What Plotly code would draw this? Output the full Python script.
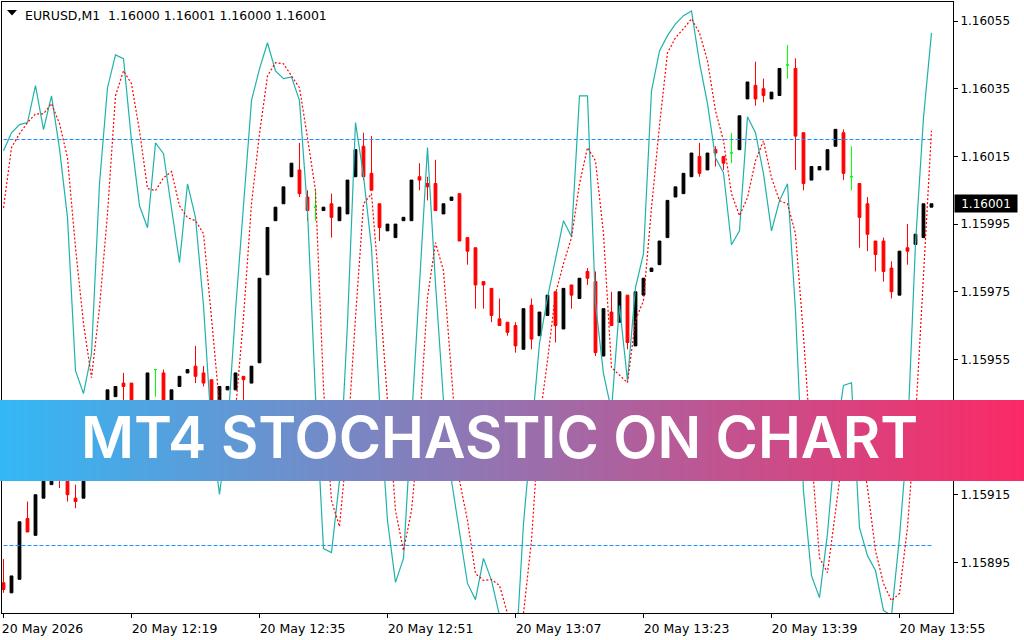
#!/usr/bin/env python3

import plotly.graph_objects as go

# bar index -> minutes are fixed, 1 bar = 1 minute, label every 16 bars
tick_bars = [0, 16, 32, 48, 64, 80, 96, 112]
tick_labels = ["20 May 2026\u00a0\u00a0", "20 May 12:19", "20 May 12:35", "20 May 12:51",
               "20 May 13:07", "20 May 13:23", "20 May 13:39", "20 May 13:55"]
price_ticks = [1.15895, 1.15915, 1.15935, 1.15955, 1.15975, 1.15995, 1.16015, 1.16035, 1.16055]
levels = [1.16020, 1.15900]
last_price = 1.16001

opens = [
    1.15889, 1.15886, 1.15890, 1.15908, 1.15903, 1.15914, 1.15918, 1.15922, 1.15919, 1.15914,
    1.15914, 1.15923, 1.15930, 1.15938, 1.15944, 1.15948, 1.15948, 1.15938, 1.15941, 1.15952,
    1.15951, 1.15941, 1.15947, 1.15951, 1.15953, 1.15951, 1.15949, 1.15941, 1.15946, 1.15946,
    1.15950, 1.15948, 1.15954, 1.15980, 1.15996, 1.16001, 1.16009, 1.16011, 1.16003, 1.16000,
    1.15999, 1.16001, 1.15996, 1.15998, 1.16009, 1.16018, 1.16010, 1.16001, 1.15993, 1.15991,
    1.15996, 1.15996, 1.16009, 1.16007, 1.16007, 1.15998, 1.16002, 1.16004, 1.15991, 1.15988,
    1.15978, 1.15976, 1.15967, 1.15966, 1.15965, 1.15958, 1.15971, 1.15962, 1.15968, 1.15975,
    1.15964, 1.15977, 1.15973, 1.15981, 1.15978, 1.15956, 1.15969, 1.15966, 1.15974, 1.15959,
    1.15974, 1.15981, 1.15983, 1.15991, 1.16003, 1.16004, 1.16009, 1.16015, 1.16011, 1.16017,
    1.16015, 1.16016, 1.16017, 1.16032, 1.16036, 1.16035, 1.16032, 1.16033, 1.16042, 1.16041,
    1.16022, 1.16008, 1.16011, 1.16011, 1.16018, 1.16022, 1.16009, 1.16007, 1.16001, 1.15990,
    1.15990, 1.15982, 1.15974, 1.15988, 1.15989, 1.15991, 1.16000,
]
highs = [
    1.15896, 1.15891, 1.15907, 1.15913, 1.15915, 1.15924, 1.15920, 1.15923, 1.15921, 1.15918,
    1.15922, 1.15930, 1.15936, 1.15946, 1.15947, 1.15951, 1.15948, 1.15942, 1.15951, 1.15952,
    1.15952, 1.15946, 1.15950, 1.15952, 1.15959, 1.15953, 1.15949, 1.15947, 1.15947, 1.15951,
    1.15950, 1.15953, 1.15979, 1.15994, 1.16000, 1.16006, 1.16013, 1.16019, 1.16005, 1.16005,
    1.16000, 1.16004, 1.16000, 1.16008, 1.16017, 1.16022, 1.16021, 1.16001, 1.15995, 1.15995,
    1.15997, 1.16008, 1.16013, 1.16009, 1.16014, 1.16001, 1.16003, 1.16004, 1.15991, 1.15988,
    1.15978, 1.15976, 1.15973, 1.15966, 1.15966, 1.15970, 1.15973, 1.15969, 1.15974, 1.15975,
    1.15976, 1.15977, 1.15979, 1.15982, 1.15981, 1.15970, 1.15975, 1.15975, 1.15974, 1.15975,
    1.15979, 1.15982, 1.15990, 1.16002, 1.16006, 1.16010, 1.16016, 1.16019, 1.16016, 1.16018,
    1.16015, 1.16022, 1.16027, 1.16037, 1.16043, 1.16038, 1.16034, 1.16041, 1.16048, 1.16044,
    1.16022, 1.16012, 1.16012, 1.16017, 1.16023, 1.16023, 1.16018, 1.16007, 1.16003, 1.15990,
    1.15991, 1.15984, 1.15987, 1.15995, 1.15992, 1.16001, 1.16001,
]
lows = [
    1.15886, 1.15886, 1.15890, 1.15904, 1.15903, 1.15914, 1.15918, 1.15917, 1.15913, 1.15911,
    1.15914, 1.15923, 1.15930, 1.15938, 1.15944, 1.15941, 1.15938, 1.15938, 1.15941, 1.15944,
    1.15941, 1.15941, 1.15947, 1.15951, 1.15948, 1.15947, 1.15938, 1.15941, 1.15946, 1.15946,
    1.15935, 1.15948, 1.15954, 1.15980, 1.15996, 1.16001, 1.16009, 1.16003, 1.15996, 1.15996,
    1.15999, 1.15991, 1.15996, 1.15998, 1.16009, 1.16008, 1.16005, 1.15990, 1.15993, 1.15991,
    1.15996, 1.15996, 1.16005, 1.16002, 1.15999, 1.15998, 1.16002, 1.15990, 1.15983, 1.15970,
    1.15970, 1.15966, 1.15965, 1.15962, 1.15957, 1.15958, 1.15958, 1.15962, 1.15968, 1.15960,
    1.15964, 1.15970, 1.15973, 1.15977, 1.15956, 1.15956, 1.15965, 1.15966, 1.15958, 1.15959,
    1.15974, 1.15981, 1.15983, 1.15991, 1.16003, 1.16004, 1.16009, 1.16009, 1.16011, 1.16012,
    1.16011, 1.16013, 1.16017, 1.16032, 1.16030, 1.16031, 1.16032, 1.16033, 1.16038, 1.16011,
    1.16005, 1.16008, 1.16011, 1.16011, 1.16018, 1.16008, 1.16005, 1.15988, 1.15987, 1.15981,
    1.15978, 1.15973, 1.15974, 1.15983, 1.15989, 1.15991, 1.16000,
]
closes = [
    1.15887, 1.15891, 1.15907, 1.15904, 1.15915, 1.15924, 1.15920, 1.15920, 1.15915, 1.15913,
    1.15922, 1.15930, 1.15936, 1.15946, 1.15947, 1.15947, 1.15938, 1.15942, 1.15951, 1.15952,
    1.15941, 1.15946, 1.15950, 1.15952, 1.15950, 1.15948, 1.15938, 1.15947, 1.15947, 1.15951,
    1.15949, 1.15953, 1.15979, 1.15994, 1.16000, 1.16006, 1.16013, 1.16004, 1.15999, 1.16000,
    1.16000, 1.15997, 1.16000, 1.16008, 1.16017, 1.16009, 1.16005, 1.15994, 1.15995, 1.15995,
    1.15997, 1.16008, 1.16008, 1.16006, 1.15999, 1.16001, 1.16003, 1.15990, 1.15987, 1.15977,
    1.15977, 1.15968, 1.15965, 1.15963, 1.15959, 1.15970, 1.15961, 1.15969, 1.15974, 1.15965,
    1.15976, 1.15974, 1.15979, 1.15979, 1.15957, 1.15970, 1.15965, 1.15975, 1.15960, 1.15975,
    1.15979, 1.15982, 1.15990, 1.16002, 1.16006, 1.16010, 1.16016, 1.16010, 1.16016, 1.16016,
    1.16013, 1.16016, 1.16027, 1.16037, 1.16032, 1.16033, 1.16034, 1.16041, 1.16042, 1.16021,
    1.16007, 1.16012, 1.16012, 1.16017, 1.16023, 1.16010, 1.16009, 1.15997, 1.15992, 1.15986,
    1.15981, 1.15975, 1.15987, 1.15987, 1.15992, 1.16001, 1.16001,
]

stoch_main = [
    1.160167, 1.160220, 1.160244, 1.160250, 1.160359, 1.160229, 1.160329, 1.160173, 1.159969, 1.159517,
    1.159449, 1.159567, 1.160069, 1.160353, 1.160450, 1.160439, 1.160196, 1.160004, 1.159939, 1.160190,
    1.160158, 1.159998, 1.159836, 1.160069, 1.159969, 1.159709, 1.159340, 1.159151, 1.159340, 1.159694,
    1.159998, 1.160315, 1.160409, 1.160486, 1.160403, 1.160380, 1.160385, 1.160315, 1.159990, 1.159443,
    1.158991, 1.158979, 1.159192, 1.159656, 1.160250, 1.160093, 1.159880, 1.159428, 1.159074, 1.158891,
    1.158962, 1.159369, 1.159792, 1.160176, 1.159774, 1.159428, 1.159192, 1.159035, 1.158888, 1.158840,
    1.158962, 1.158897, 1.158793, 1.158719, 1.158660, 1.159065, 1.159340, 1.159597, 1.159733, 1.159842,
    1.159960, 1.159913, 1.160329, 1.160329, 1.159715, 1.159508, 1.159399, 1.159709, 1.159487, 1.159762,
    1.159863, 1.160344, 1.160462, 1.160507, 1.160542, 1.160566, 1.160580, 1.160427, 1.160306, 1.160146,
    1.160102, 1.159889, 1.159930, 1.160267, 1.160220, 1.160099, 1.159930, 1.160019, 1.160069, 1.159694,
    1.159162, 1.158911, 1.158846, 1.159035, 1.159310, 1.159473, 1.159481, 1.159053, 1.158970, 1.158926,
    1.158808, 1.158793, 1.159024, 1.159319, 1.159892, 1.160264, 1.160515,
]
stoch_signal = [
    1.159998, 1.160176, 1.160217, 1.160250, 1.160276, 1.160276, 1.160306, 1.160247, 1.160146, 1.159880,
    1.159656, 1.159496, 1.159703, 1.159981, 1.160329, 1.160403, 1.160365, 1.160226, 1.160055, 1.160049,
    1.160087, 1.160105, 1.160004, 1.159969, 1.159960, 1.159922, 1.159673, 1.159414, 1.159281, 1.159399,
    1.159673, 1.160010, 1.160217, 1.160388, 1.160427, 1.160424, 1.160388, 1.160353, 1.160205, 1.160049,
    1.159467, 1.159133, 1.159056, 1.159310, 1.159673, 1.160010, 1.160040, 1.159753, 1.159428, 1.159103,
    1.158985, 1.159103, 1.159354, 1.159733, 1.159895, 1.159812, 1.159508, 1.159192, 1.159074, 1.158917,
    1.158897, 1.158899, 1.158882, 1.158799, 1.158690, 1.158799, 1.159015, 1.159369, 1.159546, 1.159744,
    1.159833, 1.159910, 1.160069, 1.160176, 1.160137, 1.159922, 1.159526, 1.159502, 1.159481, 1.159665,
    1.159724, 1.159998, 1.160241, 1.160456, 1.160501, 1.160527, 1.160557, 1.160515, 1.160433, 1.160285,
    1.160196, 1.160040, 1.159975, 1.160028, 1.160137, 1.160196, 1.160087, 1.160019, 1.160010, 1.159922,
    1.159620, 1.159272, 1.158964, 1.158920, 1.159103, 1.159281, 1.159340, 1.159310, 1.159171, 1.158985,
    1.158888, 1.158837, 1.158858, 1.159053, 1.159369, 1.159783, 1.160226,
]

PLOT_W, PLOT_H = 951, 611


def paper_x(px):
    return (px - 2) / PLOT_W


def paper_y(py):
    return 1 - (py - 2) / PLOT_H


bars = list(range(len(opens)))
idx_doji = [i for i in bars if opens[i] == closes[i]]
idx_rest = [i for i in bars if opens[i] != closes[i]]

fig = go.Figure()

# regular candles, black up and red down
fig.add_trace(go.Candlestick(
    x=idx_rest,
    open=[opens[i] for i in idx_rest],
    high=[highs[i] for i in idx_rest],
    low=[lows[i] for i in idx_rest],
    close=[closes[i] for i in idx_rest],
    increasing=dict(line=dict(color="#000000", width=1), fillcolor="#000000"),
    decreasing=dict(line=dict(color="#ff0000", width=1), fillcolor="#ff0000"),
    whiskerwidth=0,
))
# doji candles are lime
fig.add_trace(go.Candlestick(
    x=idx_doji,
    open=[opens[i] for i in idx_doji],
    high=[highs[i] for i in idx_doji],
    low=[lows[i] for i in idx_doji],
    close=[closes[i] for i in idx_doji],
    increasing=dict(line=dict(color="#00ff00", width=1), fillcolor="#00ff00"),
    decreasing=dict(line=dict(color="#00ff00", width=1), fillcolor="#00ff00"),
    whiskerwidth=0,
))

for level in levels:
    fig.add_trace(go.Scatter(x=[bars[0], bars[-1]], y=[level, level], mode="lines",
                             line=dict(color="#1e90ff", width=1, dash="4px,2px")))
fig.add_trace(go.Scatter(x=bars, y=stoch_main, mode="lines",
                         line=dict(color="#20b2aa", width=1.2)))
fig.add_trace(go.Scatter(x=bars, y=stoch_signal, mode="lines",
                         line=dict(color="#ff0000", width=1.2, dash="2px,2px")))

# banner gradient, left to right
left_rgb = (51, 184, 245)
right_rgb = (251, 42, 102)
shapes = []
for i in range(256):
    t = i / 255
    rgb = [round(a + (b - a) * t) for a, b in zip(left_rgb, right_rgb)]
    shapes.append(dict(type="rect", xref="paper", yref="paper", layer="above",
                       x0=paper_x(i * 4), x1=paper_x(i * 4 + 5),
                       y0=paper_y(481), y1=paper_y(400), line=dict(width=0),
                       fillcolor="rgb(%d,%d,%d)" % tuple(rgb)))
# chart window menu triangle
shapes.append(dict(type="path", xref="paper", yref="paper", layer="above",
                   path="M %f %f L %f %f L %f %f Z" % (paper_x(7), paper_y(10), paper_x(17), paper_y(10),
                                                       paper_x(12), paper_y(15.5)),
                   fillcolor="#000000", line=dict(width=0)))

annotations = [
    dict(text="EURUSD,M1\u00a0\u00a01.16000 1.16001 1.16000 1.16001", xref="paper", yref="paper",
         x=paper_x(23), y=paper_y(15), xanchor="left", yanchor="middle", showarrow=False,
         font=dict(family="DejaVu Sans", size=12.5, color="#000000")),
    dict(text="%.5f" % last_price, xref="paper", yref="y", x=paper_x(954), y=last_price,
         xanchor="left", yanchor="middle", showarrow=False, width=62, height=17, bgcolor="#000000",
         borderpad=0, font=dict(family="DejaVu Sans", size=12, color="#ffffff")),
    dict(text="MT4 STOCHASTIC ON CHART", xref="paper", yref="paper",
         x=paper_x(500), y=paper_y(437), xanchor="center", yanchor="middle", showarrow=False,
         font=dict(family="Inter", size=57.5, color="#ffffff", weight=600)),
]

axis_font = dict(family="DejaVu Sans", size=12, color="#000000")
fig.update_layout(
    width=1024, height=640, autosize=False,
    margin=dict(l=2, r=71, t=2, b=27),
    paper_bgcolor="#ffffff", plot_bgcolor="#ffffff",
    showlegend=False, boxgap=0.5, boxmode="overlay",
    shapes=shapes, annotations=annotations,
    xaxis=dict(type="linear", range=[-0.1875, 118.69], rangeslider=dict(visible=False),
               tickmode="array", tickvals=tick_bars, ticktext=tick_labels, tickangle=0,
               ticklabelshift=43, ticks="outside", ticklen=4, tickcolor="#000000",
               showgrid=False, zeroline=False, showline=True, linecolor="#000000",
               linewidth=1, mirror=True, tickfont=dict(family="DejaVu Sans", size=12.5, color="#000000")),
    yaxis=dict(side="right", range=[1.1588005, 1.1606064], tickmode="array", tickvals=price_ticks,
               tickformat=".5f", ticks="outside", ticklen=4, tickcolor="#000000",
               showgrid=False, zeroline=False, showline=True, linecolor="#000000",
               linewidth=1, mirror=True, tickfont=axis_font),
)

# the page margin would push the figure 8px off
fig.write_html("out.html", config={"displayModeBar": False},
               post_script="document.body.style.margin = '0';")
